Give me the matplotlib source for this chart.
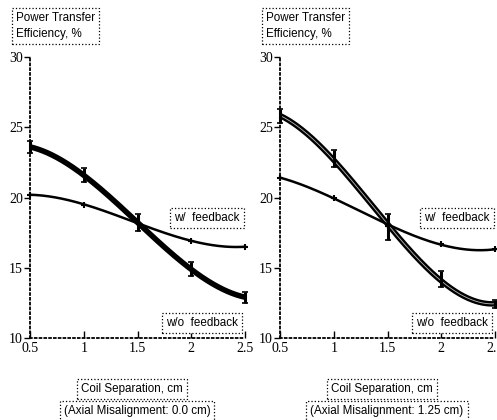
import numpy as np
import matplotlib.pyplot as plt

sep = np.array([0.5, 1.0, 1.5, 2.0, 2.5])

# (Axial Misalignment: 0.0 cm)
wo_fb_0 = np.array([23.6, 21.6, 18.2, 14.9, 12.9])
wo_err_0 = np.array([0.4, 0.5, 0.6, 0.5, 0.4])
w_fb_0 = np.array([20.2, 19.5, 18.2, 16.9, 16.5])

# (Axial Misalignment: 1.25 cm)
wo_fb_1 = np.array([25.8, 22.8, 17.9, 14.2, 12.4])
wo_err_1 = np.array([0.5, 0.6, 0.9, 0.6, 0.3])
w_fb_1 = np.array([21.4, 20.0, 18.0, 16.7, 16.3])

panels = [
    (wo_fb_0, wo_err_0, w_fb_0, "(Axial Misalignment: 0.0 cm)"),
    (wo_fb_1, wo_err_1, w_fb_1, "(Axial Misalignment: 1.25 cm)"),
]
xticks = [0.5, 1, 1.5, 2, 2.5]
xticklabels = ["0.5", "1", "1.5", "2", "2.5"]
yticks = [10, 15, 20, 25, 30]

W, H = 497, 420
fig = plt.figure(figsize=(W / 100, H / 100), dpi=100)

box = dict(boxstyle="square,pad=0.35", fc="white", ec="black", lw=0.9, ls=":")
boxfont = dict(family="Liberation Sans", fontsize=8.4)


def ftext(x, y, s, **kw):
    fig.text(x / W, 1 - y / H, s, bbox=box, **boxfont, **kw)


lefts = [30, 280]
for i, (wo, err, wf, misalign) in enumerate(panels):
    x0 = lefts[i]
    ax = fig.add_axes([x0 / W, (H - 338) / H, 215 / W, 281 / H])
    ax.set_xlim(0.5, 2.5)
    ax.set_ylim(10, 30)

    xs = np.linspace(0.5, 2.5, 200)
    ax.plot(xs, np.polyval(np.polyfit(sep, wo, 3), xs), color="black", lw=4,
            solid_capstyle="butt", clip_on=False)
    if i == 1:
        ax.plot(xs, np.polyval(np.polyfit(sep, wo, 3), xs), color="#bbbbbb",
                lw=0.6, clip_on=False)
    ax.errorbar(sep, wo, yerr=err, fmt="none", ecolor="black", elinewidth=2.2,
                capsize=2.5, capthick=1.2, clip_on=False)
    ax.plot(xs, np.polyval(np.polyfit(sep, wf, 3), xs), color="black", lw=1.8,
            clip_on=False)
    ax.plot(sep, wf, "+", color="black", ms=4, mew=1.5, clip_on=False)

    for s in ["top", "right"]:
        ax.spines[s].set_visible(False)
    for s in ["left", "bottom"]:
        ax.spines[s].set_linestyle(":")
        ax.spines[s].set_linewidth(1.3)

    ax.set_xticks(xticks)
    ax.set_xticklabels(xticklabels, family="Liberation Serif", fontsize=10)
    ax.set_yticks(yticks)
    ax.set_yticklabels([str(t) for t in yticks], family="Liberation Serif",
                       fontsize=10)
    ax.tick_params(axis="y", direction="out", length=4, width=1, pad=1)
    ax.tick_params(axis="x", direction="in", length=5, width=1, pad=3)

    ftext(x0 - 14, 26, "Power Transfer\nEfficiency, %", va="center",
          linespacing=1.5)

    ftext(x0 + 144, 218, "w/  feedback", va="center")
    ftext(x0 + 136, 323, "w/o  feedback", va="center")
    ftext(x0 + 102, 389, "Coil Separation, cm", ha="center", va="center")
    ftext(x0 + 107, 411, misalign, ha="center", va="center")

fig.savefig("out.png", dpi=100)
